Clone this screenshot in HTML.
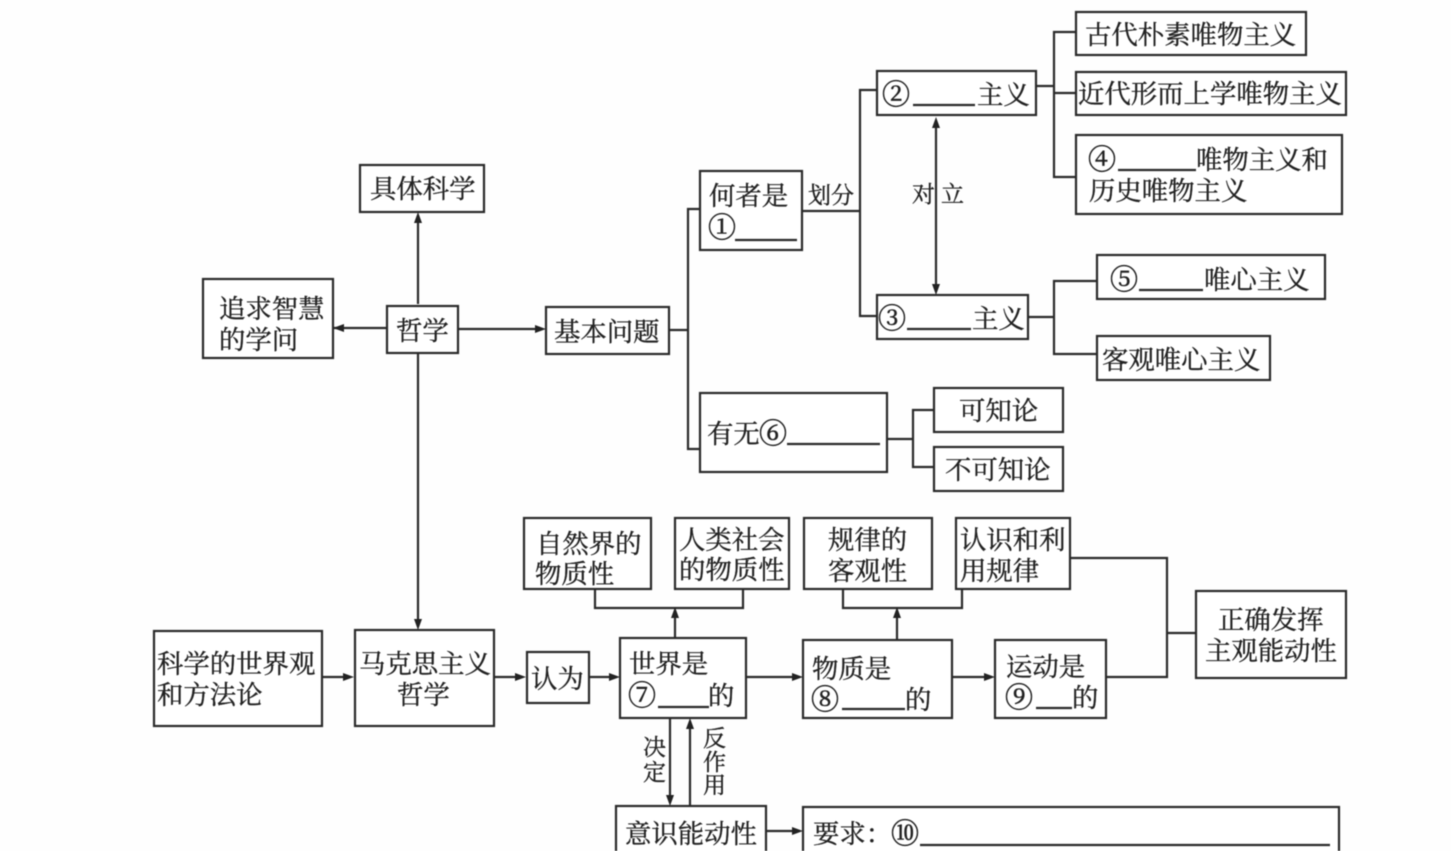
<!DOCTYPE html>
<html><head><meta charset="utf-8"><style>
html,body{margin:0;padding:0;background:#fff;width:1451px;height:851px;overflow:hidden}
svg{filter:blur(.45px)}
text{font-family:"Liberation Serif","Noto Serif CJK SC",serif;font-size:26.4px;fill:#222;stroke:#222;stroke-width:.35px}
.s{font-size:23px}
.c{font-size:28px;stroke-width:.6px}
rect{fill:#fff;stroke:#2a2a2a;stroke-width:2.2}
path.l{fill:none;stroke:#2a2a2a;stroke-width:2.2}
path.a{fill:#222;stroke:none}
</style></head><body>
<svg width="1451" height="851" viewBox="0 0 1451 851" xmlns="http://www.w3.org/2000/svg">
<rect x="0" y="0" width="1451" height="851" style="fill:#fefefe;stroke:none"/>
<!-- connectors -->
<path class="l" d="M418 304V222M333 328H387M458 329H540M418 354V622M669 330H688M700 209H688V449H700M802 211H860M877 90H860V316H877M936 125V288M1036 86H1054M1076 32H1054V177H1076M1054 93H1076M1028 317H1054M1097 281H1054V354H1097M887 439H913M934 410H913V467H934"/>
<path class="l" d="M323 677H348M494 677H520M590 677H614M746 677H796M953 677H988M1107 677H1167V558H1070M1167 633H1196M595 589V608H743V589M675 638V614M843 589V608H962V589M897 640V614M670 718V799M690 806V725M766 831H796"/>
<!-- arrowheads -->
<path class="a" d="M418 212l-4 11h8zM333 328l11-4v8zM546 329l-11-4v8zM418 630l-4-11h8zM936 117l-4 11h8zM936 295l-4-11h8zM354 677l-11-4v8zM526 677l-11-4v8zM620 677l-11-4v8zM803 677l-11-4v8zM995 677l-11-4v8zM675 607l-4 11h8zM897 607l-4 11h8zM670 806l-4-11h8zM690 718l-4 11h8zM803 831l-11-4v8z"/>
<!-- boxes -->
<rect x="360" y="165" width="124" height="47"/>
<rect x="203" y="279" width="130" height="79"/>
<rect x="387" y="306" width="71" height="47"/>
<rect x="546" y="307" width="123" height="47"/>
<rect x="700" y="171" width="102" height="79"/>
<rect x="877" y="71" width="159" height="44"/>
<rect x="877" y="295" width="151" height="44"/>
<rect x="1076" y="12" width="230" height="43"/>
<rect x="1076" y="72" width="270" height="43"/>
<rect x="1076" y="135" width="266" height="79"/>
<rect x="1097" y="255" width="228" height="44"/>
<rect x="1097" y="336" width="173" height="44"/>
<rect x="700" y="393" width="187" height="79"/>
<rect x="934" y="388" width="129" height="44"/>
<rect x="934" y="447" width="129" height="44"/>
<rect x="524" y="518" width="127" height="71"/>
<rect x="675" y="518" width="114" height="71"/>
<rect x="804" y="518" width="128" height="71"/>
<rect x="956" y="518" width="114" height="71"/>
<rect x="1196" y="591" width="150" height="87"/>
<rect x="154" y="631" width="168" height="95"/>
<rect x="355" y="630" width="139" height="96"/>
<rect x="527" y="652" width="62" height="51"/>
<rect x="620" y="638" width="126" height="80"/>
<rect x="803" y="640" width="149" height="78"/>
<rect x="995" y="640" width="111" height="78"/>
<rect x="616" y="806" width="150" height="60"/>
<rect x="803" y="807" width="536" height="60"/>
<!-- text -->
<text x="370" y="198">具体科学</text>
<text x="219" y="318">追求智慧</text><text x="219" y="349">的学问</text>
<text x="396" y="340">哲学</text>
<text x="554" y="341">基本问题</text>
<text x="709" y="205">何者是</text><text class="c" x="708" y="237">①</text>
<path class="l" d="M735 240H797M913 105H975M907 329H971M1139 290H1203M1118 170H1196M787 444H880M658 707H709M842 709H905M1036 708H1072M920 845H1330"/>
<text class="s" x="808" y="203">划分</text>
<text class="c" x="882" y="104">②</text><text x="977" y="104">主义</text>
<text class="s" x="912" y="202">对</text><text class="s" x="941" y="202">立</text>
<text class="c" x="878" y="328">③</text><text x="972" y="328">主义</text>
<text x="1085" y="44">古代朴素唯物主义</text>
<text x="1078" y="103">近代形而上学唯物主义</text>
<text class="c" x="1088" y="169">④</text><text x="1196" y="169">唯物主义和</text>
<text x="1089" y="200">历史唯物主义</text>
<text class="c" x="1110" y="289">⑤</text><text x="1204" y="289">唯心主义</text>
<text x="1102" y="369">客观唯心主义</text>
<text x="707" y="443">有无</text><text class="c" x="759" y="443">⑥</text>
<text x="959" y="420">可知论</text>
<text x="945" y="479">不可知论</text>
<text x="536" y="553">自然界的</text><text x="535" y="583">物质性</text>
<text x="679" y="549">人类社会</text><text x="679" y="579">的物质性</text>
<text x="828" y="549">规律的</text><text x="828" y="580">客观性</text>
<text x="960" y="549">认识和利</text><text x="960" y="580">用规律</text>
<text x="1218" y="629">正确发挥</text><text x="1205" y="660">主观能动性</text>
<text x="157" y="673">科学的世界观</text><text x="157" y="704">和方法论</text>
<text x="359" y="673">马克思主义</text><text x="397" y="704">哲学</text>
<text x="531" y="688">认为</text>
<text x="629" y="673">世界是</text><text class="c" x="628" y="705">⑦</text><text x="708" y="705">的</text>
<text x="812" y="678">物质是</text><text class="c" x="811" y="709">⑧</text><text x="905" y="709">的</text>
<text x="1006" y="676">运动是</text><text class="c" x="1005" y="707">⑨</text><text x="1072" y="707">的</text>
<text class="s" x="643" y="755">决</text><text class="s" x="643" y="780">定</text>
<text class="s" x="703" y="746">反</text><text class="s" x="703" y="770">作</text><text class="s" x="703" y="793">用</text>
<text x="625" y="843">意识能动性</text>
<text x="813" y="843">要求：</text><text class="c" x="891" y="843">⑩</text>
</svg>
</body></html>
